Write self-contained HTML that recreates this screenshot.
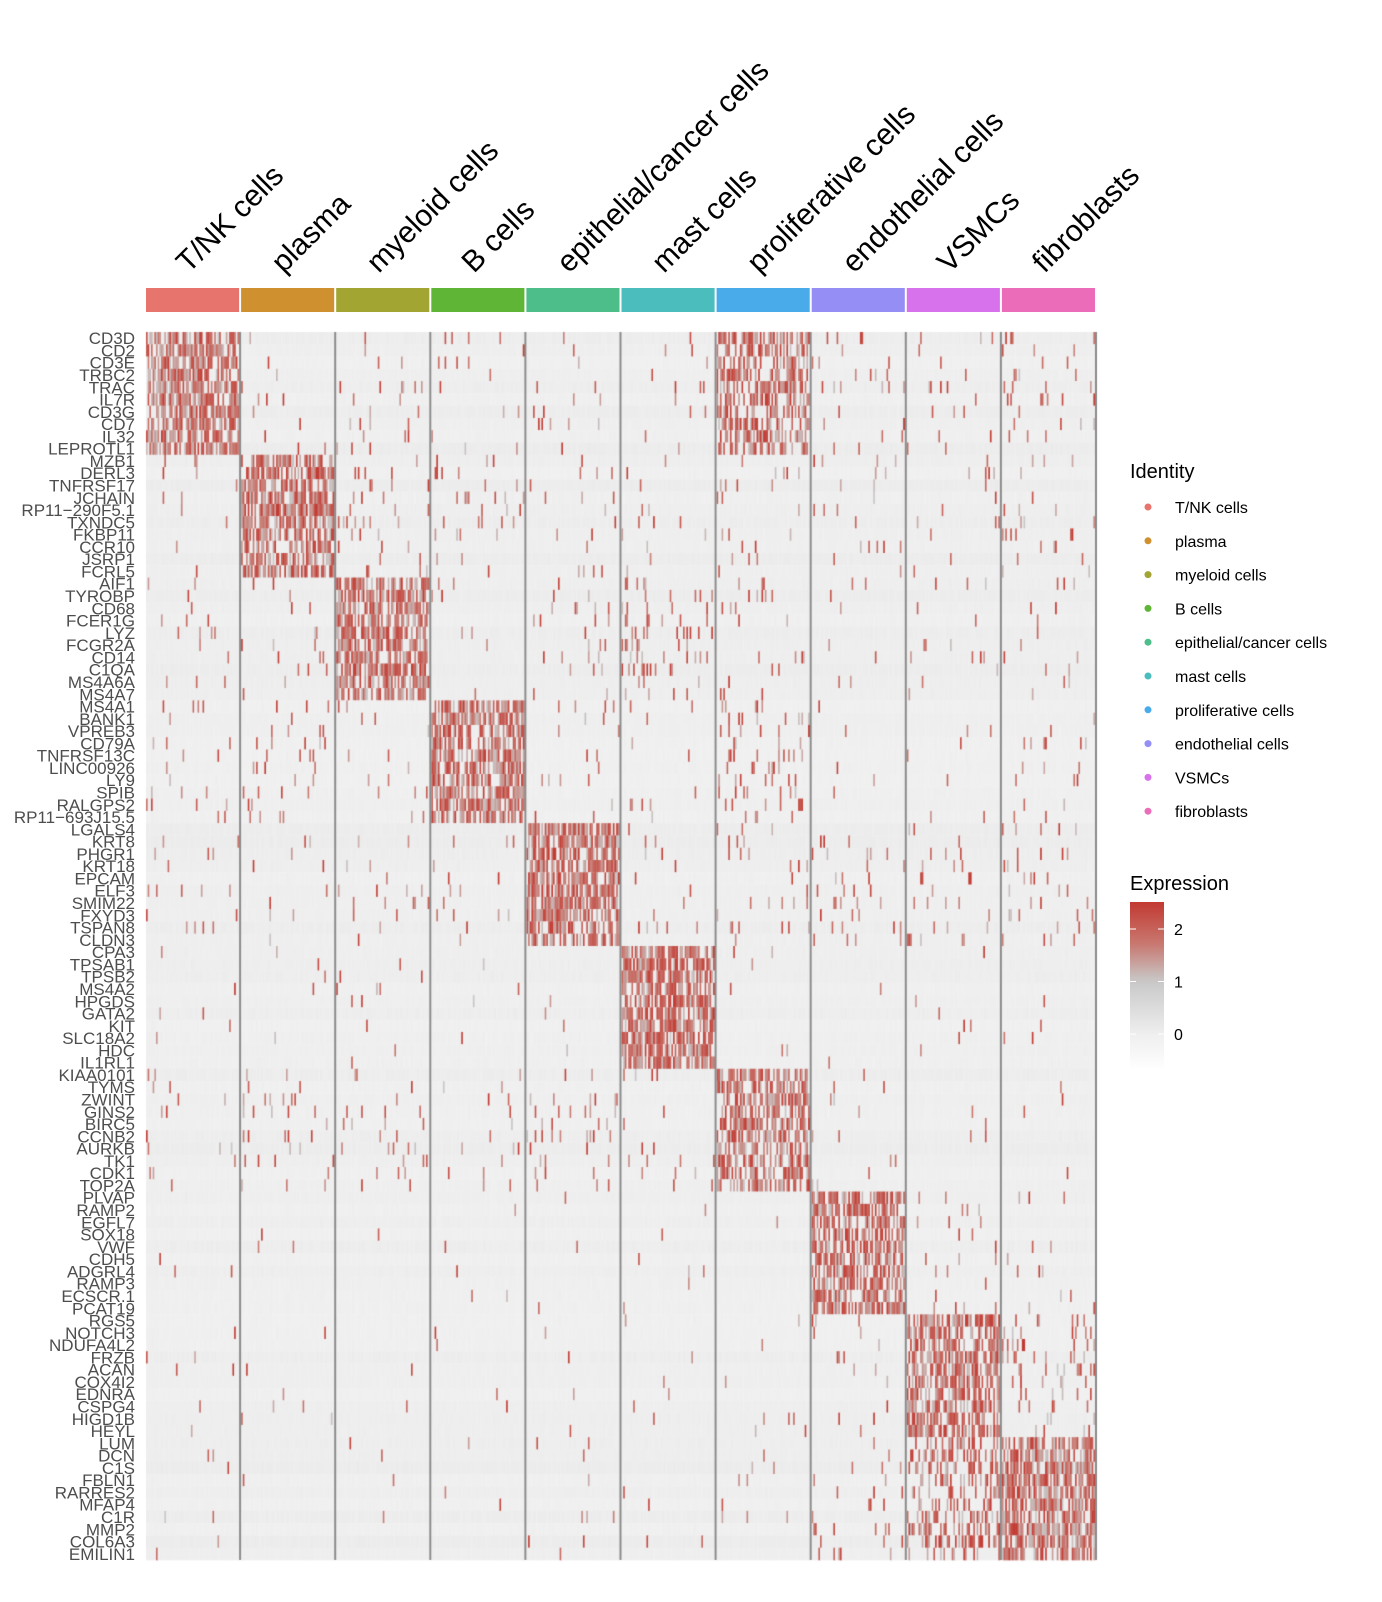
<!DOCTYPE html>
<html><head><meta charset="utf-8"><style>
html,body{margin:0;padding:0;background:#fff;}
#wrap{position:relative;width:1382px;height:1602px;overflow:hidden;font-family:"Liberation Sans",Arial,sans-serif;}
#hm{position:absolute;left:0;top:0;}
svg{position:absolute;left:0;top:0;}
</style></head><body>
<div id="wrap">
<canvas id="hm" width="1382" height="1602"></canvas>
<svg id="ov" width="1382" height="1602"></svg>
</div>
<script>
const clusters = ["T/NK cells","plasma","myeloid cells","B cells","epithelial/cancer cells","mast cells","proliferative cells","endothelial cells","VSMCs","fibroblasts"];
const clusterColors = ["#E8756D","#CF9030","#A2A532","#5FB636","#4DBE8A","#4BBDBD","#4AABEB","#958EF4","#D872EC","#EB6CB9"];
const genes = ["CD3D","CD2","CD3E","TRBC2","TRAC","IL7R","CD3G","CD7","IL32","LEPROTL1",
"MZB1","DERL3","TNFRSF17","JCHAIN","RP11\u2212290F5.1","TXNDC5","FKBP11","CCR10","JSRP1","FCRL5",
"AIF1","TYROBP","CD68","FCER1G","LYZ","FCGR2A","CD14","C1QA","MS4A6A","MS4A7",
"MS4A1","BANK1","VPREB3","CD79A","TNFRSF13C","LINC00926","LY9","SPIB","RALGPS2","RP11\u2212693J15.5",
"LGALS4","KRT8","PHGR1","KRT18","EPCAM","ELF3","SMIM22","FXYD3","TSPAN8","CLDN3",
"CPA3","TPSAB1","TPSB2","MS4A2","HPGDS","GATA2","KIT","SLC18A2","HDC","IL1RL1",
"KIAA0101","TYMS","ZWINT","GINS2","BIRC5","CCNB2","AURKB","TK1","CDK1","TOP2A",
"PLVAP","RAMP2","EGFL7","SOX18","VWF","CDH5","ADGRL4","RAMP3","ECSCR.1","PCAT19",
"RGS5","NOTCH3","NDUFA4L2","FRZB","ACAN","COX4I2","EDNRA","CSPG4","HIGD1B","HEYL",
"LUM","DCN","C1S","FBLN1","RARRES2","MFAP4","C1R","MMP2","COL6A3","EMILIN1"];
// fraction of expressing cells: gene-block (marker cluster) x cluster
const blockDensity = [
 [0.72,0.02,0.04,0.03,0.03,0.02,0.55,0.04,0.04,0.05],
 [0.03,0.72,0.04,0.04,0.03,0.02,0.04,0.03,0.03,0.04],
 [0.02,0.03,0.70,0.02,0.04,0.12,0.04,0.02,0.02,0.03],
 [0.04,0.06,0.03,0.72,0.03,0.02,0.12,0.02,0.02,0.03],
 [0.03,0.02,0.03,0.03,0.72,0.02,0.04,0.05,0.05,0.06],
 [0.01,0.01,0.01,0.01,0.01,0.72,0.01,0.01,0.01,0.01],
 [0.03,0.04,0.04,0.03,0.05,0.02,0.66,0.02,0.01,0.01],
 [0.005,0.005,0.005,0.005,0.01,0.01,0.005,0.68,0.04,0.015],
 [0.01,0.005,0.005,0.005,0.01,0.01,0.01,0.03,0.68,0.12],
 [0.01,0.005,0.005,0.005,0.02,0.01,0.01,0.05,0.35,0.72]
];
const ticks = [0,1,2];
const cellsPerCluster = 56;

const X0=145, X1=1096, Y0=332, Y1=1560;
const nC=clusters.length, nG=genes.length;
const cw=(X1-X0)/nC, rh=(Y1-Y0)/nG;
function colX(c){return X0+c*cw;}
function rowY(g){return Y0+g*rh;}
function hash(a,b){let h=(a*374761393+b*668265263)>>>0;h=((h^(h>>>13))*1274126177)>>>0;return ((h^(h>>>16))>>>0)/4294967296;}
function lerp(a,b,t){return Math.round(a+(b-a)*t);}
function exprColor(v){ // v in -0.7..2.5
 const t=Math.max(0,Math.min(1,(v+0.7)/3.2));
 const stops=[[0,[255,255,255]],[0.22,[238,238,238]],[0.53,[200,200,200]],[0.75,[200,120,112]],[1,[194,58,50]]];
 for(let i=1;i<stops.length;i++){if(t<=stops[i][0]){const a=stops[i-1],b=stops[i];const u=(t-a[0])/(b[0]-a[0]);return `rgb(${lerp(a[1][0],b[1][0],u)},${lerp(a[1][1],b[1][1],u)},${lerp(a[1][2],b[1][2],u)})`;}}
 return "rgb(194,58,50)";
}
const ctx=document.getElementById('hm').getContext('2d');
for(let g=0;g<nG;g++){
 const blk=Math.floor(g/10);
 const bgv=-0.1+0.12*hash(g,999);
 for(let c=0;c<nC;c++){
  const d=blockDensity[blk][c];
  const x0=colX(c), pw=(cw-2)/cellsPerCluster;
  for(let k=0;k<cellsPerCluster;k++){
   const r=hash(g*131+c,k+7);
   let v=bgv+0.06*hash(g+c*17,k);
   if(r<d) v=1.0+1.5*hash(k*3+g,c*11+1);
   ctx.fillStyle=exprColor(v);
   ctx.fillRect(x0+1+k*pw,rowY(g),pw+0.5,rh+0.3);
  }
 }
}
// separators
ctx.fillStyle="#8a8a8a";
for(let c=1;c<nC;c++){ctx.fillRect(colX(c)-1,Y0,2,Y1-Y0);}
ctx.fillRect(X1-1,Y0,2,Y1-Y0);

const ov=document.getElementById('ov');const NS="http://www.w3.org/2000/svg";
function mk(tag,attrs,parent){const e=document.createElementNS(NS,tag);for(const k in attrs)e.setAttribute(k,attrs[k]);(parent||ov).appendChild(e);return e;}
for(let c=0;c<nC;c++){
 const r=mk('rect',{x:colX(c)+1,y:288,width:cw-2,height:24,fill:clusterColors[c]});
 
 
 const lx=colX(c)+cw/2-4, ly=274;
 const t=mk('text',{x:lx,y:ly,'font-size':30,fill:'#000',transform:`rotate(-45 ${lx} ${ly})`});
 t.textContent=clusters[c];
 
 
}
for(let g=0;g<nG;g++){
 const t=mk('text',{x:135,y:rowY(g)+rh/2+6,'font-size':17,'text-anchor':'end',fill:'#4d4d4d'});
 t.textContent=genes[g];
 
 
}
// identity legend
const lt=mk('text',{x:1130,y:478,'font-size':20,fill:'#000'});lt.textContent="Identity";


for(let c=0;c<nC;c++){
 const y=507+c*33.8;
 const d=mk('circle',{cx:1148,cy:y,r:3.5,fill:clusterColors[c]});
 
 
 const t=mk('text',{x:1175,y:y+6,'font-size':16,fill:'#000'});t.textContent=clusters[c];
 
 
}
// expression legend
const et=mk('text',{x:1130,y:890,'font-size':20,fill:'#000'});et.textContent="Expression";


const defs=mk('defs',{});const lg=mk('linearGradient',{id:'eg',x1:0,y1:1,x2:0,y2:0},defs);
for(let i=0;i<=20;i++){const v=-0.7+3.2*i/20;mk('stop',{offset:(i/20),'stop-color':exprColor(v)},lg);}
const cb=mk('rect',{x:1130,y:902,width:34,height:168,fill:'url(#eg)'});


function valY(v){return 1034-52.5*v;}
ticks.forEach(v=>{
 mk('line',{x1:1130,x2:1136,y1:valY(v),y2:valY(v),stroke:'#fff','stroke-width':1});
 mk('line',{x1:1158,x2:1164,y1:valY(v),y2:valY(v),stroke:'#fff','stroke-width':1});
 const t=mk('text',{x:1174,y:valY(v)+6,'font-size':16,fill:'#000'});t.textContent=String(v);
 
 
});
</script>
</body></html>
